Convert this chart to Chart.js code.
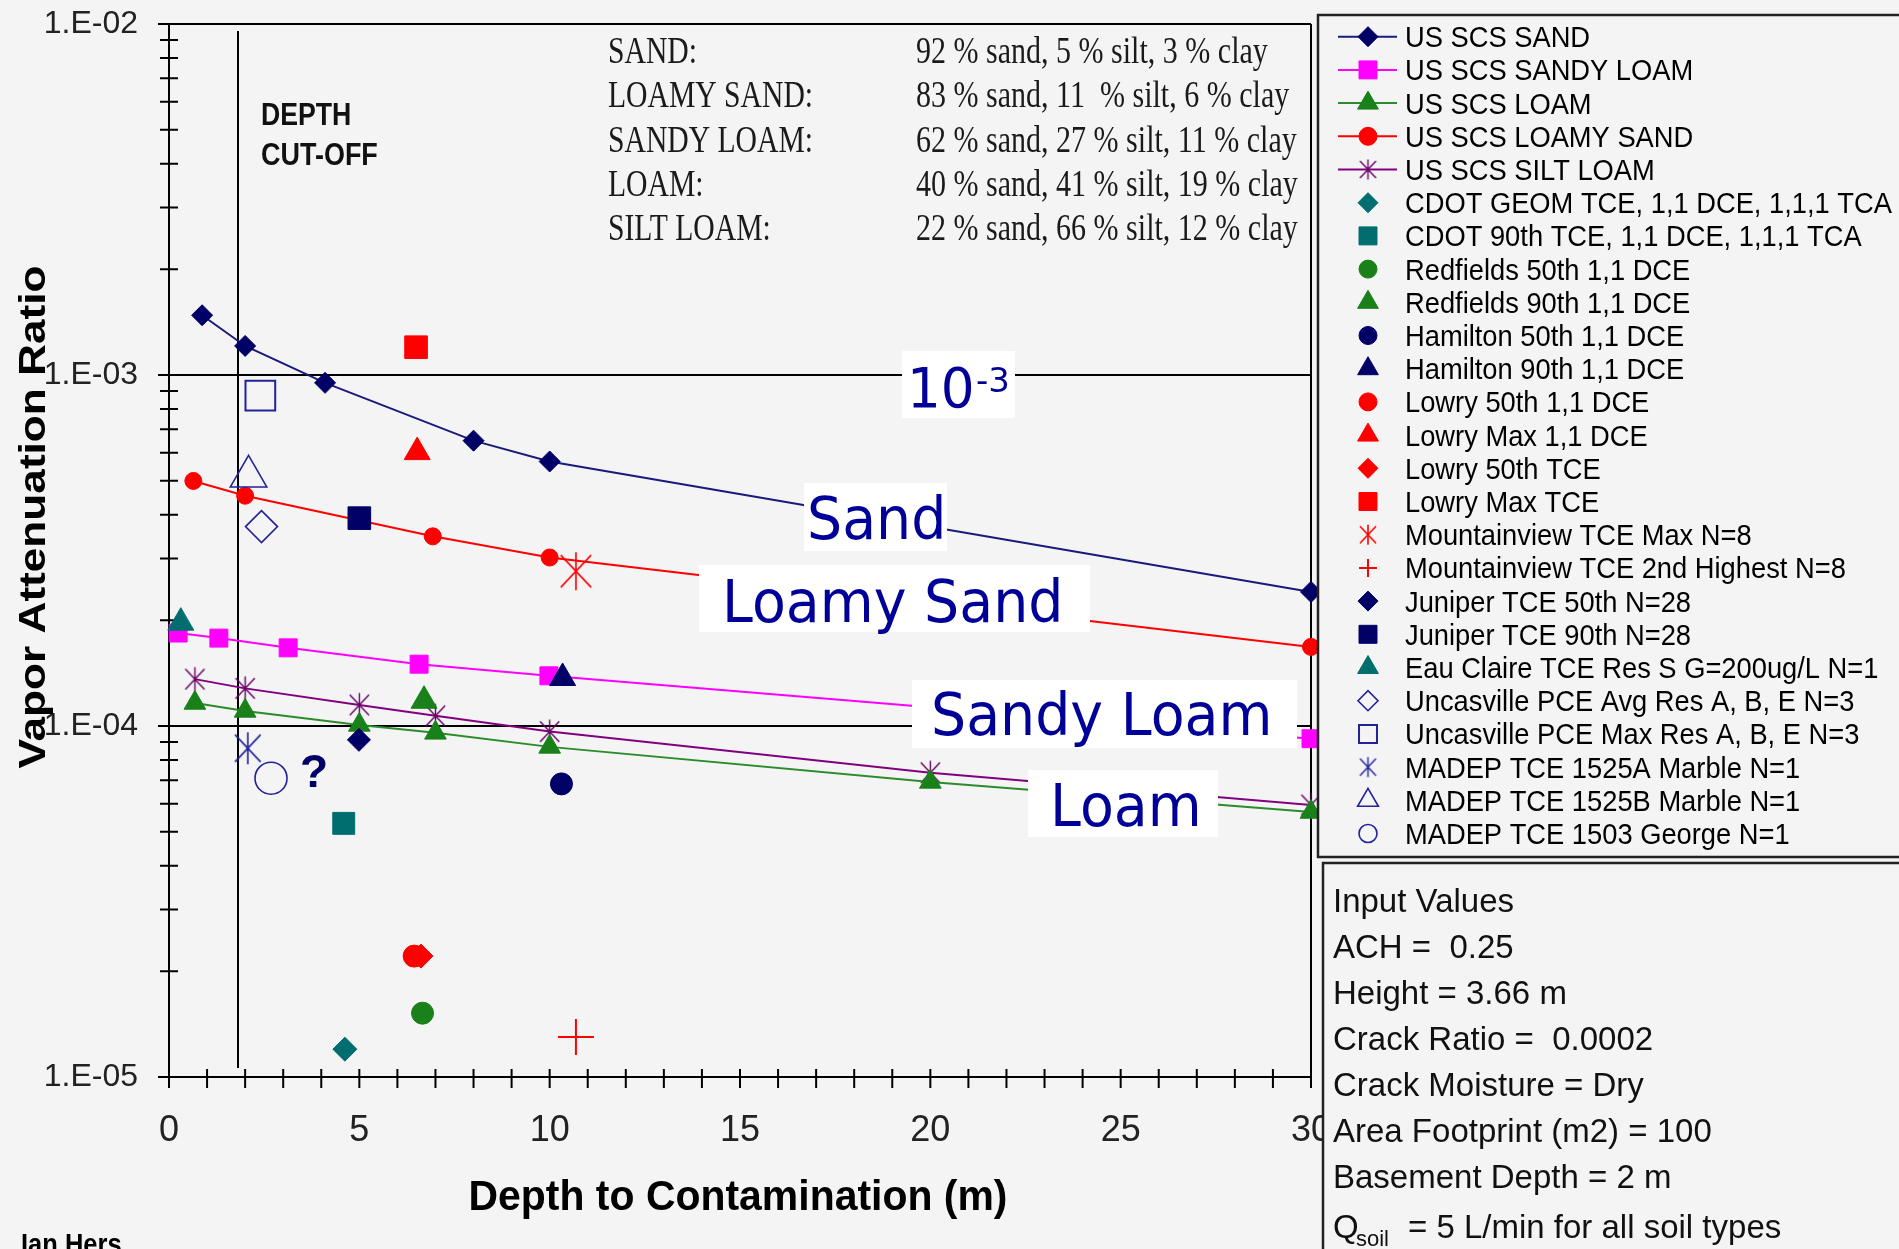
<!DOCTYPE html>
<html>
<head>
<meta charset="utf-8">
<script src="https://cdn.jsdelivr.net/npm/chart.js@4.4.1/dist/chart.umd.min.js"></script>
<style>
  html, body { margin: 0; padding: 0; background: #f4f4f4; }
  #wrap { width: 1899px; height: 1249px; }
</style>
</head>
<body>
<div id="wrap"><canvas id="myChart" width="1899" height="1249"></canvas></div>
<script>
// ---- soil curves (US SCS), depth in m, vapour attenuation ratio ----
const sandDepth = [0.87, 2.0, 4.1, 8.0, 10.0, 30];
const sandRatio = [1.48e-3, 1.21e-3, 9.5e-4, 6.5e-4, 5.67e-4, 2.41e-4];
const sandyLoamDepth = [0.24, 1.31, 3.13, 6.57, 9.98, 30];
const sandyLoamRatio = [1.84e-4, 1.78e-4, 1.67e-4, 1.50e-4, 1.39e-4, 9.2e-5];
const loamDepth = [0.68, 2, 5, 7, 10, 20, 30];
const loamRatio = [1.163e-4, 1.104e-4, 1.007e-4, 9.56e-5, 8.72e-5, 6.93e-5, 5.69e-5];
const loamySandDepth = [0.64, 2, 6.93, 10, 30];
const loamySandRatio = [4.99e-4, 4.53e-4, 3.47e-4, 3.02e-4, 1.68e-4];
const siltLoamDepth = [0.68, 2, 5, 7, 10, 20, 30];
const siltLoamRatio = [1.36e-4, 1.28e-4, 1.148e-4, 1.069e-4, 9.64e-5, 7.36e-5, 5.96e-5];

// ---- measured site data (one point each) ----
const siteNames = [
  'CDOT GEOM TCE, 1,1 DCE, 1,1,1 TCA',
  'CDOT 90th TCE, 1,1 DCE, 1,1,1 TCA',
  'Redfields 50th 1,1 DCE',
  'Redfields 90th 1,1 DCE',
  'Hamilton 50th 1,1 DCE',
  'Hamilton 90th 1,1 DCE',
  'Lowry 50th 1,1 DCE',
  'Lowry Max 1,1 DCE',
  'Lowry 50th TCE',
  'Lowry Max TCE',
  'Mountainview TCE Max N=8',
  'Mountainview TCE 2nd Highest N=8',
  'Juniper TCE 50th N=28',
  'Juniper TCE 90th N=28',
  'Eau Claire TCE Res S G=200ug/L N=1',
  'Uncasville PCE Avg Res A, B, E N=3',
  'Uncasville PCE Max Res A, B, E N=3',
  'MADEP TCE 1525A Marble N=1',
  'MADEP TCE 1525B Marble N=1',
  'MADEP TCE 1503 George N=1'
];
const siteDepth = [4.62, 4.59, 6.66, 6.70, 10.31, 10.34, 6.44, 6.52, 6.62, 6.49, 10.69, 10.69, 4.99, 5.00, 0.31, 2.43, 2.40, 2.07, 2.09, 2.68];
const siteRatio = [1.20e-5, 5.28e-5, 1.52e-5, 1.18e-4, 6.84e-5, 1.37e-4, 2.21e-5, 6.03e-4, 2.21e-5, 1.20e-3, 2.76e-4, 1.30e-5, 9.13e-5, 3.91e-4, 1.97e-4, 3.70e-4, 8.73e-4, 8.64e-5, 5.14e-4, 7.10e-5];

// ---- axes ----
const xTickValues = [0, 5, 10, 15, 20, 25, 30];
const xTickLabels = ['0', '5', '10', '15', '20', '25', '30'];
const yTickValues = [1e-5, 1e-4, 1e-3, 1e-2];
const yTickLabels = ['1.E-05', '1.E-04', '1.E-03', '1.E-02'];
const cutoffDepth = 1.8;

const soilTexture = [
  ['SAND:', '92 % sand, 5 % silt, 3 % clay'],
  ['LOAMY SAND:', '83 % sand, 11  % silt, 6 % clay'],
  ['SANDY LOAM:', '62 % sand, 27 % silt, 11 % clay'],
  ['LOAM:', '40 % sand, 41 % silt, 19 % clay'],
  ['SILT LOAM:', '22 % sand, 66 % silt, 12 % clay']
];
const inputValues = [
  'Input Values',
  'ACH =  0.25',
  'Height = 3.66 m',
  'Crack Ratio =  0.0002',
  'Crack Moisture = Dry',
  'Area Footprint (m2) = 100',
  'Basement Depth = 2 m'
];

const bg = '#f4f4f4';
const navy = '#000066';
const openNavy = '#22229a';
const teal = '#006e6e';
const green = '#1a801a';
const red = '#ff0000';
const labelBlue = '#000099';

// asterisk marker (X plus vertical bar), drawn into a small canvas
function asterisk(color, half, lw) {
  const c = document.createElement('canvas');
  const s = Math.ceil(half * 2 + lw * 2);
  c.width = s; c.height = s;
  const g = c.getContext('2d');
  g.strokeStyle = color; g.lineWidth = lw;
  const m = s / 2;
  g.beginPath();
  g.moveTo(m, m - half); g.lineTo(m, m + half);
  g.moveTo(m - half * 0.8, m - half * 0.85); g.lineTo(m + half * 0.8, m + half * 0.85);
  g.moveTo(m + half * 0.8, m - half * 0.85); g.lineTo(m - half * 0.8, m + half * 0.85);
  g.stroke();
  return c;
}

const pts = (xs, ys) => xs.map((x, i) => ({ x: x, y: ys[i] }));

function soilSet(label, xs, ys, lineColor, style, r, fill, legendStyle, legendR) {
  return {
    label: label, data: pts(xs, ys), showLine: true, order: 1, clip: false,
    borderColor: lineColor, borderWidth: 2,
    pointStyle: style, pointRadius: r, pointHoverRadius: r,
    pointBackgroundColor: fill, pointBorderColor: fill, pointBorderWidth: 1,
    legendLine: lineColor, legendStyle: legendStyle || style, legendRadius: legendR
  };
}

// marker look of each site, same order as siteNames
const siteLooks = [
  ['rectRot', 12, teal, teal, 1, null, 10],
  ['rect', 15.5, teal, teal, 1, null, 12.7],
  ['circle', 11, green, green, 1, null, 9],
  ['triangle', 15, green, green, 1, null, 12],
  ['circle', 11, navy, navy, 1, null, 9],
  ['triangle', 15, navy, navy, 1, null, 12],
  ['circle', 11, red, red, 1, null, 9],
  ['triangle', 15, red, red, 1, null, 12],
  ['rectRot', 12, red, red, 1, null, 10],
  ['rect', 16, red, red, 1, null, 12.7],
  [asterisk(red, 19, 1.6), 19, red, red, 1, asterisk(red, 10, 1.6), 10],
  ['cross', 18, red, red, 2, null, 9],
  ['rectRot', 11.5, navy, navy, 1, null, 10],
  ['rect', 16, navy, navy, 1, null, 12.7],
  ['triangle', 15, teal, teal, 1, null, 12],
  ['rectRot', 16, 'rgba(0,0,0,0)', openNavy, 1.6, null, 10],
  ['rect', 21, 'rgba(0,0,0,0)', openNavy, 2, null, 12.7],
  [asterisk(openNavy, 16, 1.6), 16, openNavy, openNavy, 1, asterisk(openNavy, 10, 1.4), 10],
  ['triangle', 21, 'rgba(0,0,0,0)', openNavy, 1.6, null, 12],
  ['circle', 16, 'rgba(0,0,0,0)', openNavy, 1.6, null, 9]
];

const datasets = [
  soilSet('US SCS SAND', sandDepth, sandRatio, '#1a1a7a', 'rectRot', 10.5, navy, null, 10),
  soilSet('US SCS SANDY LOAM', sandyLoamDepth, sandyLoamRatio, '#ff00ff', 'rect', 12.7, '#ff00ff', null, 12.7),
  soilSet('US SCS LOAM', loamDepth, loamRatio, '#2a8c2a', 'triangle', 12.5, green, null, 12),
  soilSet('US SCS LOAMY SAND', loamySandDepth, loamySandRatio, red, 'circle', 8.5, red, null, 9),
  soilSet('US SCS SILT LOAM', siltLoamDepth, siltLoamRatio, '#800080', asterisk('#660066', 12, 1.4), 12, '#660066', asterisk('#660066', 10, 1.4), 10)
];
siteNames.forEach((name, i) => {
  const lk = siteLooks[i];
  datasets.push({
    label: name, data: [{ x: siteDepth[i], y: siteRatio[i] }], showLine: false, order: 0, clip: false,
    pointStyle: lk[0], pointRadius: lk[1], pointHoverRadius: lk[1],
    pointBackgroundColor: lk[2], pointBorderColor: lk[3], pointBorderWidth: lk[4],
    legendStyle: lk[5] || lk[0], legendRadius: lk[6]
  });
});

function txt(ctx, s, x, y, font, color, align, sx) {
  ctx.save();
  ctx.font = font; ctx.fillStyle = color;
  ctx.textAlign = align || 'left'; ctx.textBaseline = 'alphabetic';
  ctx.translate(x, y); ctx.scale(sx || 1, 1);
  ctx.fillText(s, 0, 0);
  ctx.restore();
}

function labelBox(ctx, x0, y0, x1, y1, s, tx, ty) {
  ctx.save();
  ctx.fillStyle = '#ffffff';
  ctx.fillRect(x0, y0, x1 - x0, y1 - y0);
  ctx.restore();
  txt(ctx, s, tx, ty, '58px "DejaVu Sans"', labelBlue, 'left', 0.955);
}

const decorations = {
  id: 'decorations',
  beforeDraw(chart) {
    const ctx = chart.ctx;
    ctx.save();
    ctx.fillStyle = bg;
    ctx.fillRect(0, 0, chart.width, chart.height);
    ctx.restore();
  },
  beforeDatasetsDraw(chart) {
    const { ctx, chartArea: a, scales: { x, y } } = chart;
    ctx.save();
    ctx.strokeStyle = '#000';
    ctx.lineWidth = 2;
    ctx.beginPath();
    // depth cut-off line
    const cx = Math.round(x.getPixelForValue(cutoffDepth));
    ctx.moveTo(cx, a.top + 7); ctx.lineTo(cx, a.bottom - 9);
    // y ticks: decades stick out left, minor ticks cross the axis
    for (let e = -5; e <= -2; e++) {
      const py = y.getPixelForValue(Math.pow(10, e));
      ctx.moveTo(a.left - 11, py); ctx.lineTo(a.left, py);
      if (e === -2) break;
      for (let m = 2; m <= 9; m++) {
        const pm = y.getPixelForValue(m * Math.pow(10, e));
        ctx.moveTo(a.left - 9, pm); ctx.lineTo(a.left + 9, pm);
      }
    }
    // x ticks every metre, crossing the axis
    for (let d = 0; d <= 30; d++) {
      const px = x.getPixelForValue(d);
      ctx.moveTo(px, a.bottom - 8); ctx.lineTo(px, a.bottom + 11);
    }
    ctx.stroke();
    ctx.restore();

    // soil texture table
    const serif = '38px "Liberation Serif", "Times New Roman", serif';
    soilTexture.forEach((row, i) => {
      const by = 63 + i * 44.3;
      txt(ctx, row[0], 608, by, serif, '#1a1a1a', 'left', 0.78);
      txt(ctx, row[1], 916, by, serif, '#1a1a1a', 'left', 0.79);
    });
    // depth cut-off caption
    txt(ctx, 'DEPTH', 261, 125, 'bold 31px "Liberation Sans", Arial', '#111', 'left', 0.86);
    txt(ctx, 'CUT-OFF', 261, 165, 'bold 31px "Liberation Sans", Arial', '#111', 'left', 0.87);
    txt(ctx, '?', 314, 787, 'bold 46px "Liberation Sans", Arial', navy, 'center', 1);
  },
  afterDatasetsDraw(chart) {
    const ctx = chart.ctx;
    // 10^-3 label
    ctx.save();
    ctx.fillStyle = '#ffffff';
    ctx.fillRect(902, 351, 113, 67);
    ctx.restore();
    txt(ctx, '10', 907, 407, '56px "DejaVu Sans"', labelBlue, 'left', 0.95);
    txt(ctx, '-3', 976, 392, '34px "DejaVu Sans"', labelBlue, 'left', 1);
    labelBox(ctx, 804, 483, 947, 551, 'Sand', 807, 539);
    labelBox(ctx, 699, 565, 1090, 632, 'Loamy Sand', 722, 622);
    labelBox(ctx, 912, 680, 1297, 748, 'Sandy Loam', 931, 735);
    labelBox(ctx, 1028, 770, 1218, 837, 'Loam', 1050, 826);
  },
  afterDraw(chart) {
    const ctx = chart.ctx;
    const sans = '"Liberation Sans", Arial, sans-serif';

    // axis titles
    ctx.save();
    ctx.font = 'bold 37px ' + sans;
    const wy = ctx.measureText('Vapor Attenuation Ratio').width;
    ctx.restore();
    ctx.save();
    ctx.translate(45, 517);
    ctx.rotate(-Math.PI / 2);
    txt(ctx, 'Vapor Attenuation Ratio', 0, 0, 'bold 37px ' + sans, '#000', 'center', 503 / wy);
    ctx.restore();
    ctx.save();
    ctx.font = 'bold 42px ' + sans;
    const wx = ctx.measureText('Depth to Contamination (m)').width;
    ctx.restore();
    txt(ctx, 'Depth to Contamination (m)', 738, 1210, 'bold 42px ' + sans, '#000', 'center', 539 / wx);
    txt(ctx, 'Ian Hers', 21, 1254, 'bold 30px ' + sans, '#000', 'left', 0.85);

    // legend box
    ctx.save();
    ctx.fillStyle = bg;
    ctx.strokeStyle = '#222';
    ctx.lineWidth = 2.5;
    ctx.fillRect(1318, 15, 600, 842);
    ctx.strokeRect(1318, 15, 600, 842);
    ctx.restore();
    chart.data.datasets.forEach((ds, i) => {
      const cy = 36.7 + i * 33.2;
      if (ds.legendLine) {
        ctx.save();
        ctx.strokeStyle = ds.legendLine; ctx.lineWidth = 2;
        ctx.beginPath(); ctx.moveTo(1338, cy); ctx.lineTo(1397, cy); ctx.stroke();
        ctx.restore();
      }
      ctx.save();
      ctx.fillStyle = ds.pointBackgroundColor;
      ctx.strokeStyle = ds.pointBorderColor;
      ctx.lineWidth = ds.pointBorderWidth;
      if (Chart.helpers && Chart.helpers.drawPoint) {
        Chart.helpers.drawPoint(ctx, {
          pointStyle: ds.legendStyle, radius: ds.legendRadius, rotation: 0,
          borderWidth: ds.pointBorderWidth
        }, 1368, cy);
      }
      ctx.restore();
      txt(ctx, ds.label, 1405, cy + 10.5, '30px ' + sans, '#000', 'left', 0.91);
    });

    // input values box
    ctx.save();
    ctx.fillStyle = bg;
    ctx.strokeStyle = '#222';
    ctx.lineWidth = 2.5;
    ctx.fillRect(1323, 863, 600, 400);
    ctx.strokeRect(1323, 863, 600, 400);
    ctx.restore();
    inputValues.forEach((s, i) => {
      txt(ctx, s, 1333, 911.7 + i * 46.1, '33px ' + sans, '#111', 'left', 1);
    });
    txt(ctx, 'Q', 1333, 1238, '33px ' + sans, '#111', 'left', 1);
    txt(ctx, 'soil', 1356, 1246, '22px ' + sans, '#111', 'left', 1);
    txt(ctx, '= 5 L/min for all soil types', 1408, 1238, '33px ' + sans, '#111', 'left', 1);
  }
};

Chart.defaults.font.family = '"Liberation Sans", Arial, sans-serif';

const ctx = document.getElementById('myChart').getContext('2d');
const myChart = new Chart(ctx, {
  type: 'scatter',
  data: { datasets: datasets },
  options: {
    responsive: false,
    animation: false,
    events: [],
    layout: { padding: { left: 0, top: 24, right: 588, bottom: 0 } },
    scales: {
      x: {
        type: 'linear', min: 0, max: 30,
        afterFit: s => { s.height = 172; s.paddingLeft = 0; s.paddingRight = 0; },
        afterBuildTicks: s => { s.ticks = xTickValues.map(v => ({ value: v })); },
        ticks: {
          callback: (v, i) => xTickLabels[i],
          font: { size: 36 }, color: '#222', padding: 32, maxRotation: 0
        },
        grid: {
          drawTicks: false, lineWidth: 2,
          color: c => (c.tick && c.tick.value === 30) ? '#000' : 'rgba(0,0,0,0)'
        },
        border: { display: true, color: '#000', width: 2 }
      },
      y: {
        type: 'logarithmic', min: 1e-5, max: 1e-2,
        afterFit: s => { s.width = 169; s.paddingTop = 0; s.paddingBottom = 0; },
        afterBuildTicks: s => { s.ticks = yTickValues.map(v => ({ value: v })); },
        ticks: {
          callback: (v, i) => yTickLabels[i],
          font: { size: 32 }, color: '#222', padding: 31
        },
        grid: { drawTicks: false, lineWidth: 2, color: '#000' },
        border: { display: true, color: '#000', width: 2 }
      }
    },
    plugins: {
      legend: { display: false },
      tooltip: { enabled: false },
      title: { display: false }
    }
  },
  plugins: [decorations]
});
</script>
</body>
</html>
